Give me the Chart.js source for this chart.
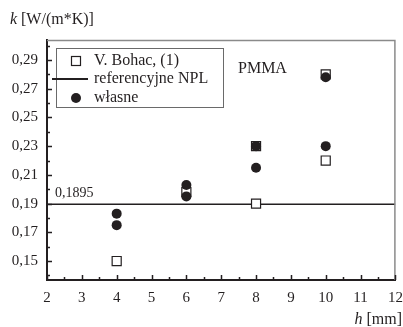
<!DOCTYPE html>
<html>
<head>
<meta charset="utf-8">
<script src="https://cdn.jsdelivr.net/npm/chart.js@4"></script>
<style>
  body { margin: 0; background: #fff; }
  #wrap { width: 403px; height: 327px; }
</style>
</head>
<body>
<div id="wrap"><canvas id="chart" width="403" height="327"></canvas></div>
<script>
// h [mm] and k [W/(m*K)]
const bohacH = [4, 6, 8, 8, 10, 10];
const bohacK = [0.150, 0.198, 0.230, 0.190, 0.280, 0.220];
const wlasneH = [4, 4, 6, 6, 8, 8, 10, 10];
const wlasneK = [0.183, 0.175, 0.203, 0.195, 0.230, 0.215, 0.278, 0.230];
const nplK = 0.1895;

const xTicks = [2, 3, 4, 5, 6, 7, 8, 9, 10, 11, 12];
const yTicks = [0.15, 0.17, 0.19, 0.21, 0.23, 0.25, 0.27, 0.29];
const yMinor = [0.14, 0.16, 0.18, 0.20, 0.22, 0.24, 0.26, 0.28, 0.30];

const serif = "'Liberation Serif', 'DejaVu Serif', serif";
const ink = "#231f20";

const pts = (xs, ys) => xs.map((x, i) => ({ x: x, y: ys[i] }));
const comma = v => String(v).replace(".", ",");

// frame, inside ticks, legend and loose labels
const extras = {
  id: "extras",
  afterDraw(chart) {
    const c = chart.ctx;
    const a = chart.chartArea;
    const xs = chart.scales.x, ys = chart.scales.y;
    c.save();

    // grey top/right frame
    c.strokeStyle = "#8a8a8a";
    c.lineWidth = 1.5;
    c.beginPath();
    c.moveTo(a.left, a.top + 0.5);
    c.lineTo(a.right - 0.5, a.top + 0.5);
    c.lineTo(a.right - 0.5, a.bottom);
    c.stroke();

    // ticks pointing inward
    c.strokeStyle = ink;
    c.lineWidth = 1.5;
    c.beginPath();
    xTicks.forEach((t, i) => {
      const px = Math.round(xs.getPixelForValue(t)) + 0.5;
      c.moveTo(px, a.bottom); c.lineTo(px, a.bottom - 5);
      if (i < xTicks.length - 1) {
        const pm = Math.round(xs.getPixelForValue(t + 0.5)) + 0.5;
        c.moveTo(pm, a.bottom); c.lineTo(pm, a.bottom - 3);
      }
    });
    yTicks.forEach(t => {
      const py = Math.round(ys.getPixelForValue(t)) + 0.5;
      c.moveTo(a.left, py); c.lineTo(a.left + 5, py);
    });
    yMinor.forEach(t => {
      const py = Math.round(ys.getPixelForValue(t)) + 0.5;
      c.moveTo(a.left, py); c.lineTo(a.left + 3, py);
    });
    c.stroke();

    // legend
    const ds = chart.data.datasets;
    c.strokeStyle = "#6a6a6a";
    c.lineWidth = 1;
    c.strokeRect(56.5, 48.5, 167, 59);
    c.fillStyle = ink;
    c.font = "16px " + serif;
    c.textBaseline = "middle";
    c.textAlign = "left";
    const rows = [61, 79, 98];
    c.strokeStyle = ink;
    c.lineWidth = 1.2;
    c.strokeRect(71.5, rows[0] - 4.5, 9, 9);
    c.lineWidth = 2;
    c.beginPath(); c.moveTo(52, rows[1]); c.lineTo(88, rows[1]); c.stroke();
    c.beginPath(); c.arc(76, rows[2], 5, 0, Math.PI * 2); c.fill();
    c.fillText(ds[1].label, 94, rows[0]);
    c.fillText(ds[2].label, 94, rows[1]);
    c.fillText(ds[0].label, 94, rows[2]);

    // loose labels
    c.fillText("PMMA", 238, 69);
    c.font = "14px " + serif;
    c.fillText(comma(nplK), 55, ys.getPixelForValue(nplK) - 11);

    c.font = "italic 16px " + serif;
    c.fillText("k", 10, 20);
    c.font = "16px " + serif;
    c.fillText("[W/(m*K)]", 21, 20);

    c.textAlign = "right";
    c.fillText("[mm]", 402, 320);
    const w = c.measureText(" [mm]").width;
    c.font = "italic 16px " + serif;
    c.fillText("h", 402 - w, 320);
    c.restore();
  }
};

new Chart(document.getElementById("chart"), {
  type: "scatter",
  data: {
    datasets: [
      {
        label: "własne",
        data: pts(wlasneH, wlasneK),
        pointStyle: "circle",
        pointRadius: 5,
        backgroundColor: ink,
        borderColor: ink,
        borderWidth: 0,
        order: 0
      },
      {
        label: "V. Bohac, (1)",
        data: pts(bohacH, bohacK),
        pointStyle: "rect",
        pointRadius: 6.4,
        backgroundColor: "#fff",
        borderColor: ink,
        borderWidth: 1.2,
        order: 1
      },
      {
        type: "line",
        label: "referencyjne NPL",
        data: [{ x: xTicks[0], y: nplK }, { x: xTicks[xTicks.length - 1], y: nplK }],
        borderColor: ink,
        borderWidth: 1.5,
        pointRadius: 0,
        order: 2
      }
    ]
  },
  options: {
    responsive: false,
    animation: false,
    layout: { padding: { top: 40, right: 6, left: 0, bottom: 0 } },
    plugins: { legend: { display: false }, tooltip: { enabled: false } },
    scales: {
      x: {
        type: "linear",
        min: 2,
        max: 12,
        afterBuildTicks: s => { s.ticks = xTicks.map(v => ({ value: v })); },
        afterFit: s => { s.height = 47; s.paddingLeft = 0; s.paddingRight = 0; },
        grid: { display: false, drawTicks: false },
        border: { display: true, color: ink, width: 2 },
        ticks: { color: ink, padding: 9, font: { family: serif, size: 15 } }
      },
      y: {
        min: 0.1368,
        max: 0.3039,
        afterBuildTicks: s => { s.ticks = yTicks.map(v => ({ value: v })); },
        afterFit: s => { s.width = 47; s.paddingTop = 0; s.paddingBottom = 0; },
        grid: { display: false, drawTicks: false },
        border: { display: true, color: ink, width: 2 },
        ticks: {
          color: ink,
          padding: 9,
          font: { family: serif, size: 15 },
          callback: v => comma(v.toFixed(2))
        }
      }
    }
  },
  plugins: [extras]
});
</script>
</body>
</html>
